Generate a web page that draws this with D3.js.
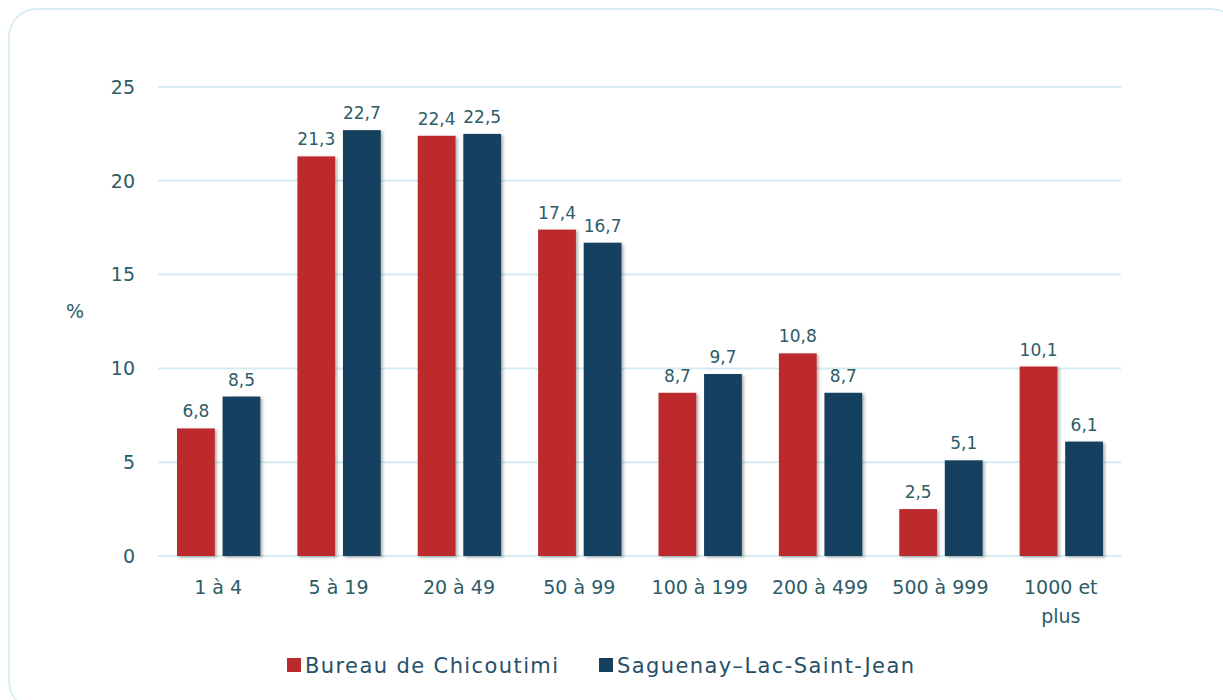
<!DOCTYPE html>
<html>
<head>
<meta charset="utf-8">
<script src="https://cdn.jsdelivr.net/npm/d3@7"></script>
<style>
  body { margin: 0; background: #fff; }
  svg text { font-family: "DejaVu Sans", sans-serif; }
</style>
</head>
<body>
<div id="container"></div>
<script>
const categories = ["1 à 4", "5 à 19", "20 à 49", "50 à 99", "100 à 199", "200 à 499", "500 à 999", "1000 et plus"];
const seriesNames = ["Bureau de Chicoutimi", "Saguenay–Lac-Saint-Jean"];
const chicoutimi = [6.8, 21.3, 22.4, 17.4, 8.7, 10.8, 2.5, 10.1];
const saguenay = [8.5, 22.7, 22.5, 16.7, 9.7, 8.7, 5.1, 6.1];
const yTicks = [0, 5, 10, 15, 20, 25];

const width = 1223;
const height = 700;
const marginTop = 87;
const marginRight = 102;
const marginBottom = 144;
const marginLeft = 158;

const colors = ["#bd2a2d", "#16405f"];
const textColor = "#2d5c68";

const data = categories.map((c, i) => ({
  category: c,
  values: [chicoutimi[i], saguenay[i]]
}));

const x0 = d3.scaleBand()
  .domain(categories)
  .range([marginLeft, width - marginRight])
  .padding(0);

const x1 = d3.scaleBand()
  .domain(seriesNames)
  .range([19, x0.bandwidth() - 18])
  .paddingInner(0.17);

const y = d3.scaleLinear()
  .domain([0, 25])
  .range([height - marginBottom, marginTop]);

const svg = d3.create("svg").attr("width", width).attr("height", height);

const defs = svg.append("defs");
const shadow = defs.append("filter").attr("id", "shadow")
  .attr("x", "-20%").attr("y", "-20%").attr("width", "150%").attr("height", "150%");
shadow.append("feDropShadow")
  .attr("dx", 2).attr("dy", 1.5).attr("stdDeviation", 1.5)
  .attr("flood-color", "#000").attr("flood-opacity", 0.3);

// frame
svg.append("rect")
  .attr("x", 9).attr("y", 9)
  .attr("width", 1230).attr("height", 700)
  .attr("rx", 28)
  .attr("fill", "none")
  .attr("stroke", "#d6eef3")
  .attr("stroke-width", 1.8);

// grid
svg.append("g")
  .selectAll("line")
  .data(yTicks)
  .join("line")
  .attr("x1", marginLeft)
  .attr("x2", width - marginRight)
  .attr("y1", (d) => y(d))
  .attr("y2", (d) => y(d))
  .attr("stroke", "#d4ecf1")
  .attr("stroke-width", 2);

// y axis labels
svg.append("g")
  .selectAll("text")
  .data(yTicks)
  .join("text")
  .attr("x", 135)
  .attr("y", (d) => y(d))
  .attr("dy", "0.36em")
  .attr("text-anchor", "end")
  .attr("font-size", 19)
  .attr("fill", textColor)
  .text((d) => d);

svg.append("text")
  .attr("x", 75)
  .attr("y", 311)
  .attr("dy", "0.36em")
  .attr("text-anchor", "middle")
  .attr("font-size", 19)
  .attr("fill", textColor)
  .text("%");

// bars
const groups = svg.append("g")
  .selectAll("g")
  .data(data)
  .join("g")
  .attr("transform", (d) => `translate(${x0(d.category)},0)`);

groups.selectAll("rect")
  .data((d) => d.values.map((v, i) => ({ key: seriesNames[i], value: v, i })))
  .join("rect")
  .attr("x", (d) => x1(d.key))
  .attr("y", (d) => y(d.value))
  .attr("width", x1.bandwidth())
  .attr("height", (d) => y(0) - y(d.value))
  .attr("fill", (d) => colors[d.i])
  .attr("filter", "url(#shadow)");

groups.selectAll("text.value")
  .data((d) => d.values.map((v, i) => ({ key: seriesNames[i], value: v })))
  .join("text")
  .attr("class", "value")
  .attr("x", (d) => x1(d.key) + x1.bandwidth() / 2)
  .attr("y", (d) => y(d.value) - 11)
  .attr("text-anchor", "middle")
  .attr("font-size", 17)
  .attr("fill", textColor)
  .text((d) => d.value.toFixed(1).replace(".", ","));

// x labels
const xLabels = svg.append("g")
  .selectAll("text")
  .data(categories)
  .join("text")
  .attr("x", (d) => x0(d) + x0.bandwidth() / 2)
  .attr("y", 594)
  .attr("text-anchor", "middle")
  .attr("font-size", 19)
  .attr("fill", textColor);

xLabels.each(function (d) {
  const lines = d === "1000 et plus" ? ["1000 et", "plus"] : [d];
  d3.select(this).selectAll("tspan")
    .data(lines)
    .join("tspan")
    .attr("x", x0(d) + x0.bandwidth() / 2)
    .attr("dy", (l, i) => (i === 0 ? 0 : 29))
    .text((l) => l);
});

// legend
const legend = svg.append("g").attr("transform", "translate(287,658)");
const legendX = [0, 312];
const items = legend.selectAll("g")
  .data(seriesNames)
  .join("g")
  .attr("transform", (d, i) => `translate(${legendX[i]},0)`);

items.append("rect")
  .attr("width", 14)
  .attr("height", 14)
  .attr("fill", (d, i) => colors[i]);

items.append("text")
  .attr("x", 18)
  .attr("y", 7)
  .attr("dy", "0.36em")
  .attr("font-size", 21)
  .attr("letter-spacing", 1.4)
  .attr("fill", "#264f68")
  .text((d) => d);

d3.select("#container").append(() => svg.node());
</script>
</body>
</html>
